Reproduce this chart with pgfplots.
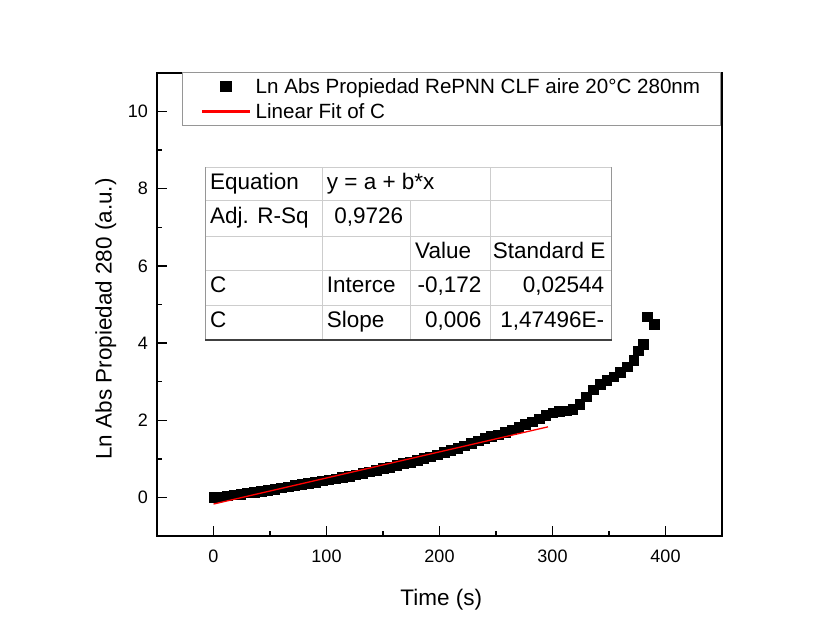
\documentclass[border=0pt]{standalone}
\usepackage{pgfplots}
\pgfplotsset{compat=1.18}
\usepackage{fontspec}
\setmainfont{Liberation Sans}
\newcommand{\fsz}[1]{\fontsize{#1bp}{#1bp}\selectfont}
\definecolor{gridgray}{RGB}{205,205,205}
\definecolor{edgegray}{RGB}{150,150,150}
\definecolor{fitred}{RGB}{255,0,0}
\begin{document}
\begin{tikzpicture}
\fill[white] (0,0) rectangle (822bp,638bp);
\path[use as bounding box] (0,0) rectangle (822bp,638bp);
\begin{axis}[
  at={(157bp,102bp)}, anchor=south west,
  width=565bp, height=463bp, scale only axis,
  xmin=-50, xmax=450, ymin=-1, ymax=11,
  xtick={0,100,...,400}, ytick={0,2,...,10},
  minor x tick num=1, minor y tick num=1,
  tick align=inside, xtick pos=left, ytick pos=left,
  major tick length=10bp, minor tick length=5bp,
  axis line style={line width=1.6bp},
  every tick/.style={line width=1.4bp, black},
  /pgf/number format/assume math mode=true,
  tick label style={font=\fsz{18}},
  xticklabel style={anchor=north, inner sep=0pt, yshift=-14bp},
  yticklabel style={anchor=east, inner sep=0pt, xshift=-9bp},
  label style={font=\fsz{22.5}},
  xlabel={Time (s)},
  ylabel={Ln Abs Propiedad 280 (a.u.)},
  xlabel style={at={(axis description cs:0.503,-0.151)}, anchor=base},
  ylabel style={at={(axis description cs:-0.0802,0.4687)}, anchor=base},
  clip marker paths=true,
  legend style={at={(axis description cs:0.04425,1.0022)}, anchor=north west,
    draw=edgegray, fill=white, line width=0.8bp, inner xsep=19.7bp, inner ysep=4.3bp,
    row sep=5.4bp, column sep=6bp,
    font=\fsz{20.6}, cells={anchor=west},
    nodes={inner sep=0pt, text height=17bp, text depth=2.5bp}},
]
\addplot[only marks, mark=square*, mark size=4.8bp, black, mark options={line width=0.4bp},
  legend image code/.code={\path (0bp,0bp) (46.3bp,0bp);
    \fill[black] (23.15bp,0bp) +(-5.2bp,-5.2bp) rectangle +(5.2bp,5.2bp);}] coordinates {
(0,0.00) (6,0.02) (12,0.04) (18,0.07) (24,0.09) (30,0.12) (36,0.14) (42,0.16)
(48,0.19) (54,0.22) (60,0.25) (66,0.28) (72,0.31) (78,0.34) (84,0.37) (90,0.40)
(96,0.43) (102,0.46) (108,0.49) (114,0.52) (120,0.55) (126,0.59) (132,0.63) (138,0.67)
(144,0.71) (150,0.75) (156,0.79) (162,0.83) (168,0.88) (174,0.92) (180,0.97) (186,1.02)
(192,1.06) (198,1.11) (204,1.17) (210,1.22) (216,1.28) (222,1.34) (228,1.40) (234,1.47)
(240,1.53) (246,1.58) (252,1.63) (258,1.69) (264,1.75) (270,1.82) (276,1.89) (282,1.96)
(288,2.04) (294,2.13) (300,2.20) (306,2.23) (312,2.25) (318,2.29) (324,2.42) (330,2.61)
(336,2.79) (342,2.94) (348,3.04) (354,3.13) (360,3.25) (366,3.39) (372,3.55) (376,3.80)
(380,3.97) (384,4.68) (390,4.49)
};
\addlegendentry{Ln Abs Propiedad RePNN CLF aire 20°C 280nm\hspace{3.9bp}}
\addplot[fitred, line width=1.3bp, no marks,
  legend image code/.code={\path (0bp,0bp) (46.3bp,0bp);
    \fill[fitred] (0bp,-1.1bp) rectangle (46.3bp,1.1bp);}]
  coordinates {(0,-0.172) (296,1.829)};
\addlegendentry{Linear Fit of C}
\end{axis}
% results table
\begin{scope}[line width=0.8bp]
\foreach \yy in {471,437.3,402,368,333} \draw[gridgray] (205bp,\yy bp) -- (611.7bp,\yy bp);
\draw[gridgray] (322.7bp,298bp) -- (322.7bp,471bp);
\draw[gridgray] (410bp,298bp) -- (410bp,437.3bp);
\draw[gridgray] (490bp,298bp) -- (490bp,471bp);
\draw[edgegray] (205bp,298bp) -- (205bp,471bp);
\draw[edgegray] (611.7bp,298bp) -- (611.7bp,471bp);
\draw[black!75, line width=1.2bp] (205bp,298bp) -- (611.7bp,298bp);
\end{scope}
\begin{scope}[every node/.style={inner sep=0pt, font=\fsz{22.5}}]
\node[anchor=base west] at (210bp,448.7bp) {Equation};
\node[anchor=base west] at (326.7bp,448.7bp) {y = a + b*x};
\node[anchor=base west] at (210bp,414.5bp) {Adj. R-Sq};
\node[anchor=base east] at (403.3bp,414.5bp) {0,9726};
\node[anchor=base west] at (415bp,379.7bp) {Value};
\node[anchor=base west] at (492.7bp,379.7bp) {Standard E};
\node[anchor=base west] at (210bp,345.7bp) {C};
\node[anchor=base west] at (326.7bp,345.7bp) {Interce};
\node[anchor=base east] at (481.7bp,345.7bp) {-0,172};
\node[anchor=base east] at (604.3bp,345.7bp) {0,02544};
\node[anchor=base west] at (210bp,310.7bp) {C};
\node[anchor=base west] at (326.7bp,310.7bp) {Slope};
\node[anchor=base east] at (481.7bp,310.7bp) {0,006};
\node[anchor=base east] at (604.3bp,310.7bp) {1,47496E-};
\end{scope}
\end{tikzpicture}
\end{document}
